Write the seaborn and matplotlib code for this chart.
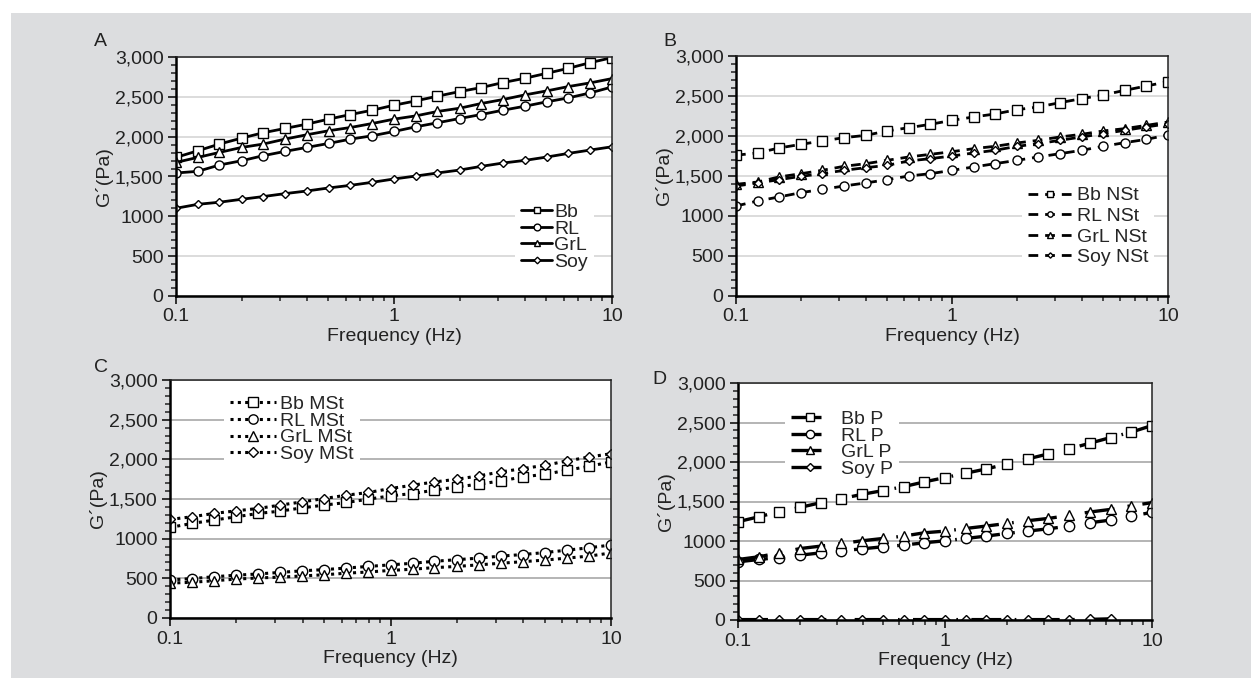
import numpy as np
import pandas as pd
import seaborn as sns
import matplotlib.pyplot as plt
from matplotlib.ticker import FixedLocator, NullFormatter, LogLocator
from matplotlib.patches import Rectangle

sns.set_theme(style="white")
plt.rcParams['font.family'] = ['Liberation Sans Narrow', 'Liberation Sans', 'DejaVu Sans']

freq = [0.1, 0.126, 0.158, 0.2, 0.251, 0.316, 0.398, 0.501, 0.631, 0.794, 1.0,
        1.26, 1.58, 2.0, 2.51, 3.16, 3.98, 5.01, 6.31, 7.94, 10.0]

# panel A
bb_A = [1740, 1823, 1907, 1982, 2049, 2103, 2157, 2220, 2278, 2332, 2395, 2449, 2508, 2566, 2616, 2679, 2733, 2795, 2858, 2929, 2992]
rl_A = [1544, 1565, 1644, 1698, 1761, 1815, 1865, 1915, 1969, 2011, 2065, 2124, 2174, 2228, 2278, 2332, 2382, 2437, 2487, 2549, 2624]
grl_A = [1677, 1740, 1802, 1865, 1907, 1969, 2024, 2074, 2115, 2165, 2220, 2261, 2316, 2357, 2416, 2466, 2524, 2574, 2629, 2675, 2729]
soy_A = [1101, 1151, 1177, 1214, 1248, 1285, 1318, 1356, 1389, 1427, 1469, 1506, 1544, 1581, 1627, 1669, 1702, 1744, 1790, 1832, 1873]

# panel B
bb_B = [1760, 1788, 1850, 1896, 1938, 1979, 2008, 2063, 2104, 2146, 2196, 2238, 2275, 2329, 2363, 2417, 2467, 2513, 2571, 2625, 2679]
rl_B = [1125, 1188, 1238, 1292, 1333, 1375, 1413, 1454, 1500, 1529, 1571, 1613, 1654, 1696, 1738, 1779, 1821, 1871, 1917, 1958, 2013]
grl_B = [1396, 1425, 1488, 1529, 1571, 1621, 1654, 1696, 1738, 1771, 1804, 1842, 1871, 1913, 1946, 1988, 2021, 2063, 2092, 2133, 2175]
soy_B = [1375, 1413, 1454, 1496, 1529, 1571, 1604, 1633, 1688, 1717, 1750, 1788, 1821, 1871, 1904, 1946, 1988, 2029, 2071, 2113, 2154]

# panel C
bb_C = [1142, 1192, 1234, 1276, 1318, 1347, 1389, 1423, 1456, 1498, 1540, 1569, 1611, 1653, 1686, 1728, 1778, 1812, 1862, 1912, 1967]
rl_C = [480, 497, 520, 540, 555, 575, 595, 610, 630, 650, 670, 690, 715, 735, 755, 780, 800, 825, 855, 885, 920]
grl_C = [440, 450, 470, 490, 505, 515, 530, 545, 565, 580, 600, 615, 635, 650, 670, 690, 710, 730, 755, 780, 820]
soy_C = [1243, 1276, 1318, 1351, 1381, 1423, 1464, 1506, 1548, 1582, 1632, 1674, 1715, 1749, 1791, 1841, 1883, 1925, 1979, 2029, 2071]

# panel D
bb_D = [1244, 1307, 1371, 1426, 1485, 1536, 1591, 1638, 1688, 1748, 1803, 1858, 1912, 1976, 2039, 2103, 2166, 2238, 2310, 2378, 2462]
rl_D = [736, 766, 791, 821, 850, 876, 901, 927, 948, 977, 1003, 1032, 1062, 1096, 1125, 1155, 1189, 1231, 1265, 1316, 1362]
grl_D = [766, 800, 850, 905, 935, 969, 1003, 1032, 1062, 1104, 1125, 1159, 1189, 1223, 1257, 1286, 1324, 1367, 1400, 1447, 1485]
soy_D = [5, 5, 5, 5, 5, 5, 5, 5, 5, 5, 5, 5, 5, 5, 5, 5, 5, 8, 15, np.nan, np.nan]

names = ["Bb", "RL", "GrL", "Soy"]
markers = ["s", "o", "^", "D"]
msizes = [6.5, 6.5, 6.5, 4.5]

W, H = 1251, 678
FS = 14
fig = plt.figure(figsize=(W / 100, H / 100), dpi=100, facecolor="white")
fig.patches.append(Rectangle((11 / W, 0), 1, 1 - 13 / H, transform=fig.transFigure,
                             facecolor="#dcdddf", edgecolor="none", zorder=-10))


def px_axes(l, t, r, b):
    return fig.add_axes([l / W, 1 - b / H, (r - l) / W, (b - t) / H])


def style_axes(ax, letter, lx, ly, gridcol):
    ax.set_facecolor("white")
    ax.set_xscale("log")
    ax.set_xlim(0.1, 10)
    ax.set_ylim(0, 3000)
    ax.set_xticks([0.1, 1, 10])
    ax.set_xticklabels(["0.1", "1", "10"])
    ax.xaxis.set_minor_locator(LogLocator(base=10, subs=np.arange(2, 10)))
    ax.xaxis.set_minor_formatter(NullFormatter())
    ax.set_yticks([0, 500, 1000, 1500, 2000, 2500, 3000])
    ax.set_yticklabels(["0", "500", "1000", "1,500", "2,000", "2,500", "3,000"])
    ax.yaxis.set_minor_locator(FixedLocator(np.arange(0, 3001, 100)))
    ax.tick_params(axis="both", which="major", direction="out", length=6, width=1.3,
                   labelsize=FS, colors="#222222", pad=3, bottom=True, left=True)
    ax.tick_params(axis="both", which="minor", direction="out", length=3.5, width=1.1,
                   colors="#222222", bottom=True, left=True)
    ax.grid(axis="y", which="major", color=gridcol, linewidth=1.2)
    ax.grid(axis="x", visible=False)
    for s in ["left", "bottom"]:
        ax.spines[s].set_color("black")
        ax.spines[s].set_linewidth(1.8)
    for s in ["top", "right"]:
        ax.spines[s].set_color("#222222")
        ax.spines[s].set_linewidth(1.1)
    ax.set_xlabel("Frequency (Hz)", fontsize=FS, color="#222222", labelpad=2)
    ax.set_ylabel("G\u00b4(Pa)", fontsize=FS, color="#222222", labelpad=1)
    fig.text(lx / W, 1 - ly / H, letter, fontsize=FS, color="#222222", ha="center", va="center")


def draw(ax, series, suffix, ls, lw, msz_scale):
    for name, vals, m, ms in zip(names, series, markers, msizes):
        sns.lineplot(x=freq, y=vals, ax=ax, color="black", linestyle=ls, linewidth=lw,
                     marker=m, markersize=ms * msz_scale, markerfacecolor="white",
                     markeredgecolor="black", markeredgewidth=1.0, label=name + suffix)


def add_legend(ax, loc, anchor, hl, htp, ls, ms):
    ax.legend(loc=loc, bbox_to_anchor=anchor, frameon=True, facecolor="white",
              edgecolor="none", framealpha=1, fancybox=False, fontsize=FS, handlelength=hl,
              handletextpad=htp, labelspacing=ls, borderpad=0.3, markerscale=ms)


axA = px_axes(176, 57, 612, 296)
style_axes(axA, "A", 100, 42, "#d6d6d6")
draw(axA, [bb_A, rl_A, grl_A, soy_A], "", "-", 2.0, 1.0)
add_legend(axA, "lower right", (0.98, 0.04), 1.6, 0.1, -0.05, 0.75)

axB = px_axes(736, 56, 1168, 296)
style_axes(axB, "B", 670, 41, "#d6d6d6")
draw(axB, [bb_B, rl_B, grl_B, soy_B], " NSt", (0, (3.5, 2.5)), 2.0, 1.0)
add_legend(axB, "lower right", (0.99, 0.06), 2.3, 0.2, 0.15, 0.6)

axC = px_axes(170, 380, 611, 618)
style_axes(axC, "C", 101, 368, "#a8a8a8")
draw(axC, [bb_C, rl_C, grl_C, soy_C], " MSt", (0, (1, 1.4)), 2.2, 1.15)
add_legend(axC, "upper left", (0.1, 1.0), 2.4, 0.2, -0.05, 0.9)

axD = px_axes(738, 383, 1152, 620)
style_axes(axD, "D", 659, 380, "#a8a8a8")
draw(axD, [bb_D, rl_D, grl_D, soy_D], " P", (0, (9, 4, 0.5, 4)), 2.4, 1.15)
add_legend(axD, "upper left", (0.09, 0.95), 2.0, 0.6, -0.05, 0.8)

fig.savefig("out.png", dpi=100, facecolor=fig.get_facecolor())
